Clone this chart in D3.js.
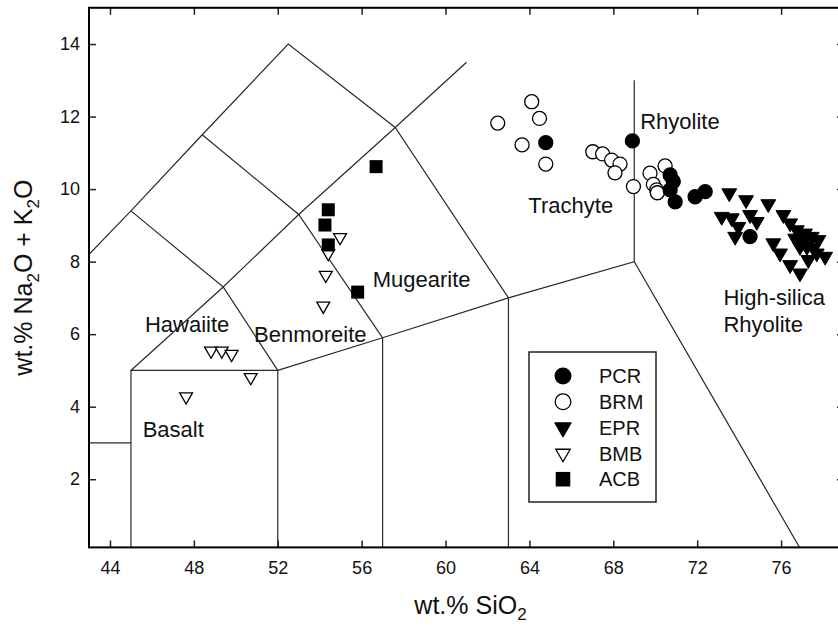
<!DOCTYPE html>
<html>
<head>
<meta charset="utf-8">
<script src="https://cdn.jsdelivr.net/npm/d3@7"></script>
<style>
html,body{margin:0;padding:0;background:#fff;}
svg{display:block;}
text{font-family:Arial,"Liberation Sans",Helvetica,sans-serif;fill:#111;}
</style>
</head>
<body>
<svg id="chart" width="838" height="626"></svg>
<script>
// ---------- data ----------
const seriesNames = ["PCR", "BRM", "EPR", "BMB", "ACB"];

const pcrSiO2 = [64.78, 68.91, 70.71, 70.86, 70.71, 70.95, 71.90, 72.38, 74.52];
const pcrAlk  = [11.28, 11.33, 10.39, 10.21, 9.98, 9.65, 9.79, 9.93, 8.69];

const brmSiO2 = [64.11, 64.48, 62.49, 63.65, 64.78, 67.02, 67.49, 67.92, 68.32, 68.08, 68.96, 69.75, 70.47, 69.91, 70.07, 70.10];
const brmAlk  = [12.41, 11.95, 11.82, 11.22, 10.69, 11.03, 10.97, 10.80, 10.69, 10.45, 10.07, 10.44, 10.64, 10.13, 9.98, 9.90];

const eprSiO2 = [73.53, 74.33, 75.39, 76.11, 73.17, 73.65, 74.52, 74.84, 73.96, 73.81, 76.43, 76.75, 77.14, 77.46, 77.78, 75.63, 75.95, 76.43, 76.90, 77.30, 77.70, 78.10, 76.90, 77.23, 77.54, 76.67, 77.06];
const eprAlk  = [9.89, 9.70, 9.59, 9.29, 9.24, 9.20, 9.29, 9.10, 8.96, 8.69, 9.06, 8.87, 8.78, 8.69, 8.60, 8.51, 8.23, 7.91, 7.68, 8.05, 8.23, 8.14, 8.41, 8.41, 8.37, 8.64, 8.55];

const bmbSiO2 = [54.97, 54.41, 54.29, 54.17, 48.82, 49.33, 49.80, 50.71, 47.63];
const bmbAlk  = [8.67, 8.23, 7.63, 6.78, 5.54, 5.54, 5.45, 4.81, 4.28];

const acbSiO2 = [56.69, 54.41, 54.25, 54.41, 55.81];
const acbAlk  = [10.62, 9.43, 9.01, 8.46, 7.16];

const xTicks = [44, 48, 52, 56, 60, 64, 68, 72, 76];
const yTicks = [2, 4, 6, 8, 10, 12, 14];

// TAS field boundaries (SiO2, Na2O+K2O)
const fieldLines = [
  [[41, 3], [45, 3]],
  [[45, 0], [45, 5], [52, 5], [52, 0]],
  [[52, 5], [57, 5.9], [63, 7], [69, 8], [77, 0]],
  [[57, 0], [57, 5.9]],
  [[63, 0], [63, 7]],
  [[69, 8], [69, 13]],
  [[45, 5], [49.4, 7.3], [52, 5]],
  [[41, 7], [45, 9.4], [48.4, 11.5], [52.5, 14], [57.6, 11.7], [63, 7]],
  [[45, 9.4], [49.4, 7.3], [53, 9.3], [57.6, 11.7], [61, 13.5]],
  [[48.4, 11.5], [53, 9.3], [57, 5.9]]
];

const fieldNames = ["Hawaiite", "Benmoreite", "Basalt", "Mugearite", "Trachyte", "Rhyolite", "High-silica", "Rhyolite"];
const fieldNameX = [45.67, 50.87, 45.56, 56.53, 63.95, 69.28, 73.25, 73.25];
const fieldNameY = [6.06, 5.78, 3.17, 7.30, 9.34, 11.65, 6.80, 6.07];

// ---------- chart ----------
const svg = d3.select("#chart");
const x = d3.scaleLinear().domain([43, 79]).range([89, 844]);
const y = d3.scaleLinear().domain([0.12, 15]).range([547.4, 7.8]);
const [x0, x1] = x.range();
const [yb, yt] = y.range();

svg.append("defs").append("clipPath").attr("id", "plotclip")
  .append("rect").attr("x", x0).attr("y", yt).attr("width", x1 - x0).attr("height", yb - yt);

const line = d3.line().x(d => x(d[0])).y(d => y(d[1]));
const fields = svg.append("g").attr("clip-path", "url(#plotclip)");
fields.selectAll("path").data(fieldLines).join("path")
  .attr("d", line).attr("fill", "none").attr("stroke", "#2a2a2a").attr("stroke-width", 1.2);

// field labels
svg.append("g").selectAll("text").data(fieldNames).join("text")
  .attr("x", (d, i) => x(fieldNameX[i]))
  .attr("y", (d, i) => y(fieldNameY[i]))
  .attr("font-size", 22)
  .text(d => d);

// axes
const tick = 7;
const gx = svg.append("g").attr("transform", `translate(0,${yb})`)
  .call(d3.axisBottom(x).tickValues(xTicks).tickSize(-tick).tickPadding(14).tickFormat(d3.format("d")));
const gxt = svg.append("g").attr("transform", `translate(0,${yt})`)
  .call(d3.axisTop(x).tickValues(xTicks).tickSize(-tick).tickFormat(""));
const gy = svg.append("g").attr("transform", `translate(${x0},0)`)
  .call(d3.axisLeft(y).tickValues(yTicks).tickSize(-tick).tickPadding(9).tickFormat(d3.format("d")));
const gyr = svg.append("g").attr("transform", `translate(${x1},0)`)
  .call(d3.axisRight(y).tickValues(yTicks).tickSize(-tick).tickFormat(""));
[gx, gxt, gy, gyr].forEach(g => {
  g.select(".domain").remove();
  g.selectAll(".tick line").attr("stroke", "#222").attr("stroke-width", 1.5);
  g.selectAll(".tick text").attr("font-size", 18).attr("font-family", "Arial, 'Liberation Sans', sans-serif").attr("fill", "#111");
});

// frame
svg.append("rect").attr("x", x0).attr("y", yt).attr("width", x1 - x0).attr("height", yb - yt)
  .attr("fill", "none").attr("stroke", "#000").attr("stroke-width", 2);

// markers
const tri = d3.symbol().type(d3.symbolTriangle);
function drawPts(xs, ys, kind) {
  const g = svg.append("g").attr("clip-path", "url(#plotclip)");
  const pts = xs.map((v, i) => [v, ys[i]]);
  const sel = g.selectAll("*").data(pts).enter();
  drawMarker(sel, kind, d => x(d[0]), d => y(d[1]), 1);
}
function drawMarker(sel, kind, fx, fy, scale) {
  if (kind === "PCR" || kind === "BRM") {
    sel.append("circle").attr("cx", fx).attr("cy", fy).attr("r", 7 * scale)
      .attr("fill", kind === "PCR" ? "#000" : "#fff")
      .attr("stroke", "#000").attr("stroke-width", 1.3);
  } else if (kind === "EPR" || kind === "BMB") {
    const size = kind === "EPR" ? 95 : 72;
    sel.append("path").attr("d", tri.size(size * scale * scale)())
      .attr("transform", d => `translate(${fx(d)},${fy(d)}) rotate(180)`)
      .attr("fill", kind === "EPR" ? "#000" : "#fff")
      .attr("stroke", "#000").attr("stroke-width", kind === "EPR" ? 1 : 1.3);
  } else {
    const s = 13 * scale;
    sel.append("rect").attr("x", d => fx(d) - s / 2).attr("y", d => fy(d) - s / 2)
      .attr("width", s).attr("height", s).attr("fill", "#000");
  }
}
drawPts(bmbSiO2, bmbAlk, "BMB");
drawPts(acbSiO2, acbAlk, "ACB");
drawPts(brmSiO2, brmAlk, "BRM");
drawPts(eprSiO2, eprAlk, "EPR");
drawPts(pcrSiO2, pcrAlk, "PCR");

// legend
const lg = svg.append("g").attr("transform", "translate(529,352)");
lg.append("rect").attr("width", 127).attr("height", 150).attr("fill", "#fff").attr("stroke", "#222").attr("stroke-width", 1.5);
seriesNames.forEach((name, i) => {
  const cy = 24 + i * 25.8;
  const sel = lg.selectAll(null).data([[0, 0]]).enter();
  drawMarker(sel, name, () => 34, () => cy, 1.12);
  lg.append("text").attr("x", 70).attr("y", cy).attr("dy", "0.36em")
    .attr("font-size", 20).text(name);
});

// axis titles
const xt = svg.append("text").attr("x", (x0 + x1) / 2 + 4).attr("y", 614)
  .attr("text-anchor", "middle").attr("font-size", 25);
xt.append("tspan").text("wt.% SiO");
xt.append("tspan").attr("font-size", 17).attr("dy", 6).text("2");

const yl = svg.append("text").attr("transform", `translate(32,${(yt + yb) / 2}) rotate(-90)`)
  .attr("text-anchor", "middle").attr("font-size", 25);
yl.append("tspan").text("wt.% Na");
yl.append("tspan").attr("font-size", 17).attr("dy", 7).text("2");
yl.append("tspan").attr("dy", -7).text("O + K");
yl.append("tspan").attr("font-size", 17).attr("dy", 7).text("2");
yl.append("tspan").attr("dy", -7).text("O");
</script>
</body>
</html>
